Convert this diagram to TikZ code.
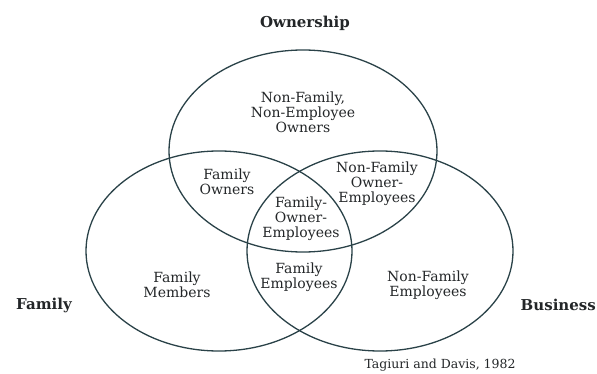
\documentclass[tikz,border=0pt]{standalone}
\usepackage{fontspec}
\setmainfont{DejaVu Serif}
\definecolor{vennline}{RGB}{42,66,72}
\definecolor{ink}{RGB}{35,38,40}
\tikzset{
        setring/.style={draw=vennline, line width=1.3pt},
        region/.style={align=center, text=ink, inner sep=0pt,
                font=\fontsize{14}{15}\selectfont},
        setname/.style={text=ink, inner sep=0pt, font=\bfseries\fontsize{15}{17}\selectfont},
}

\begin{document}
\begin{tikzpicture}[x=1pt,y=-1pt]
        \useasboundingbox (0,0) rectangle (597,374);
        % the three sets
        \draw[setring] (303,151) ellipse [x radius=134, y radius=101];
        \draw[setring] (219,251) ellipse [x radius=133, y radius=100];
        \draw[setring] (380,251) ellipse [x radius=133, y radius=100];
        % set names
        \node[setname] (ownership) at (305,23) {Ownership};
        \node[setname] (family) at (44,305) {Family};
        \node[setname, anchor=east] (business) at (596,305) {Business};
        % regions
        \node[region] (nfneo) at (303,112) {Non-Family,\\Non-Employee\\Owners};
        \node[region] (fowners) at (227,182) {Family\\Owners};
        \node[region] (nfoe) at (377,184) {Non-Family\\Owner-\\Employees};
        \node[region] (foe) at (301,219) {Family-\\Owner-\\Employees};
        \node[region] (femp) at (299,277) {Family\\Employees};
        \node[region] (fmembers) at (177,285) {Family\\Members};
        \node[region] (nfemp) at (428,285) {Non-Family\\Employees};
        \node[text=ink, font=\fontsize{12.5}{14}\selectfont, anchor=west] (source) at (361,365) {Tagiuri and Davis, 1982};
\end{tikzpicture}
\end{document}
